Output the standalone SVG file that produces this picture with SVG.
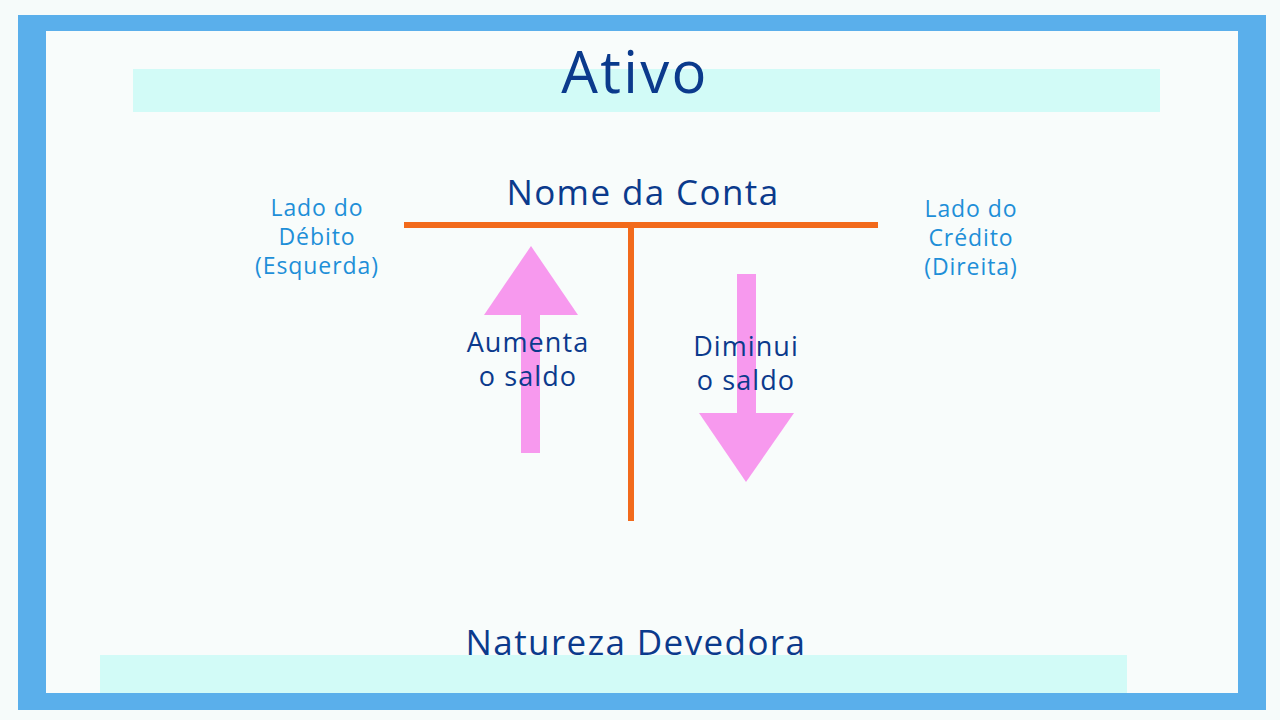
<svg xmlns="http://www.w3.org/2000/svg" width="1280" height="720" viewBox="0 0 1280 720">
<style>
text{font-family:"Open Sans","Noto Sans",sans-serif;text-anchor:middle;letter-spacing:0.04em}
.dk{fill:#0b3a8c}
.lt{fill:#1e8fd8;font-size:23px}
.arr{fill:#f799ee}
</style>
<rect width="1280" height="720" fill="#f6fbfa"/>
<rect x="18" y="15" width="1248" height="695" fill="#5aafeb"/>
<rect x="46" y="31" width="1192" height="662" fill="#f8fcfb"/>
<rect x="133" y="69" width="1027" height="43" fill="#d2fbf7"/>
<rect x="100" y="655" width="1027" height="38" fill="#d2fbf7"/>
<g id="title"><text class="dk" x="635" y="93" font-size="58">Ativo</text></g>
<g id="bottom"><text class="dk" x="636" y="655" font-size="35">Natureza Devedora</text></g>
<g id="conta"><text class="dk" x="643" y="205" font-size="35">Nome da Conta</text></g>
<g id="debito"><text class="lt" x="317" y="216">Lado do</text><text class="lt" x="317" y="245">Débito</text><text class="lt" x="317" y="274">(Esquerda)</text></g>
<g id="credito"><text class="lt" x="971" y="217">Lado do</text><text class="lt" x="971" y="246">Crédito</text><text class="lt" x="971" y="275">(Direita)</text></g>
<g id="connectors">
<line x1="404" y1="225" x2="878" y2="225" stroke="#f26a1b" stroke-width="6"/>
<line x1="631" y1="225" x2="631" y2="521" stroke="#f26a1b" stroke-width="6"/>
</g>
<g id="up"><rect class="arr" x="521" y="300" width="19" height="153"/><polygon class="arr" points="531,246 578,315 484,315"/></g>
<g id="down"><rect class="arr" x="737" y="274" width="19" height="146"/><polygon class="arr" points="699,413 794,413 746,482"/></g>
<g id="aumenta"><text class="dk" x="528" y="352" font-size="27">Aumenta</text><text class="dk" x="528" y="386" font-size="27">o saldo</text></g>
<g id="diminui"><text class="dk" x="746" y="356" font-size="27">Diminui</text><text class="dk" x="746" y="390" font-size="27">o saldo</text></g>
</svg>
